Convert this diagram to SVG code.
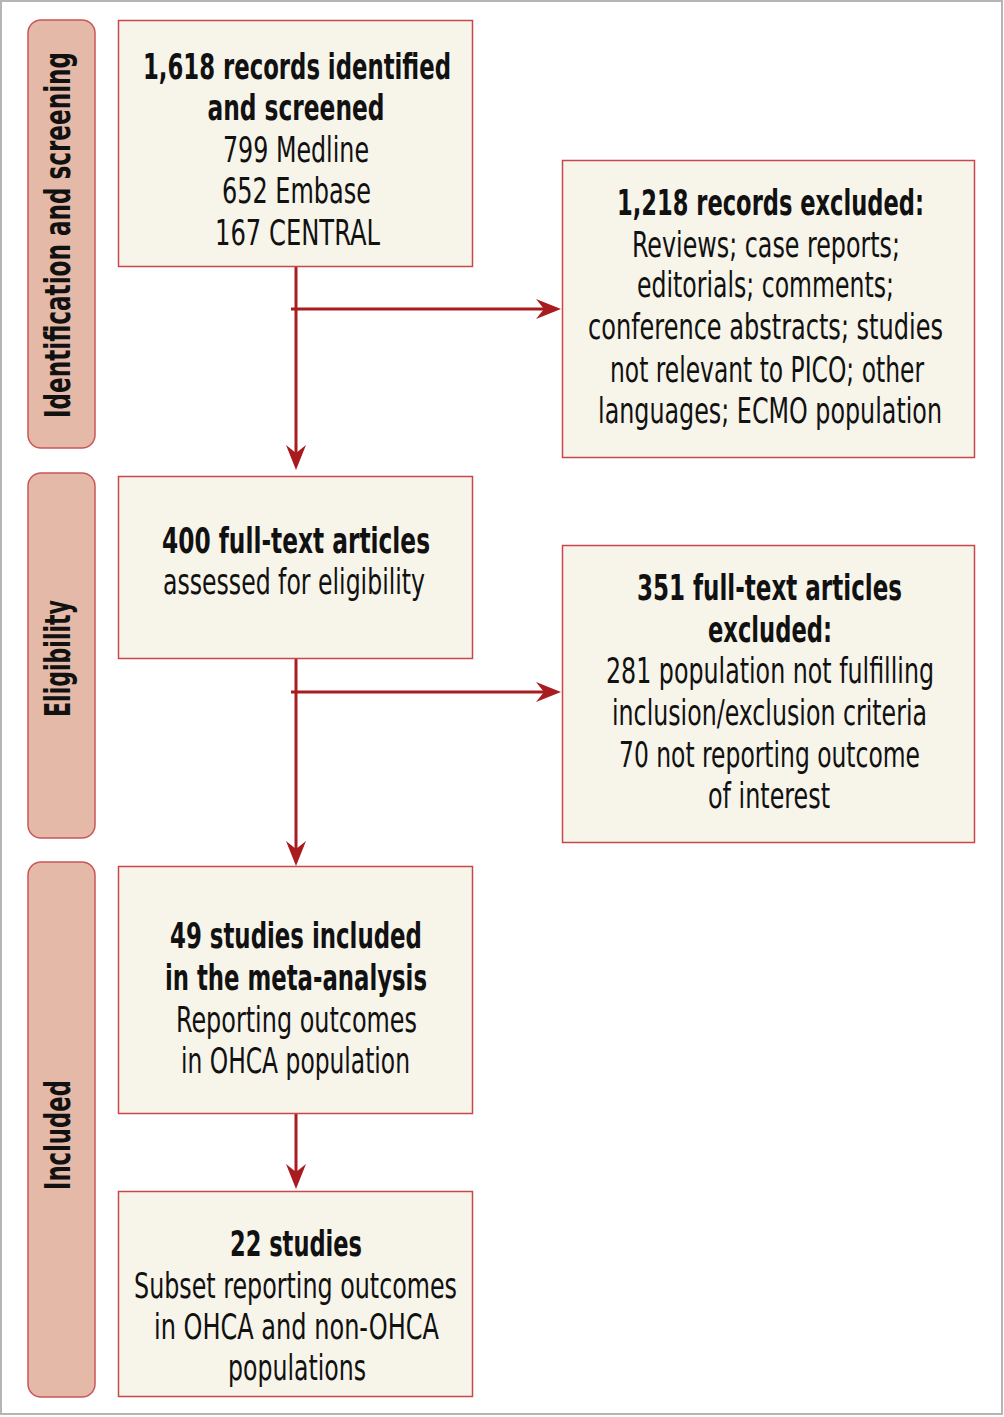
<svg xmlns="http://www.w3.org/2000/svg" width="1004" height="1417" viewBox="0 0 1004 1417">
<style>
.band{fill:#E4B9A8;stroke:#C9565A;stroke-width:1.5}
.box{fill:#F7F4EA;stroke:#C8474B;stroke-width:1.5}
.t{font-family:"Liberation Sans Narrow","DejaVu Sans Condensed","Liberation Sans",sans-serif;font-size:35px;fill:#111;text-anchor:middle}
.b{font-weight:bold}
.side{font-family:"Liberation Sans Narrow","DejaVu Sans Condensed","Liberation Sans",sans-serif;font-size:35px;font-weight:bold;fill:#111}
.ln{stroke:#A81C20;stroke-width:3;fill:none}
</style>
<defs>
<marker id="ah" markerUnits="userSpaceOnUse" viewBox="0 0 25 20" refX="15" refY="10" markerWidth="25" markerHeight="20" orient="auto">
<path d="M0,0 L25,10 L0,20 L8,10 Z" fill="#A81C20"/>
</marker>
</defs>
<rect x="1" y="1" width="1001" height="1413" fill="#FFFFFF" stroke="#B5B5B5" stroke-width="2"/>

<g id="band-identification">
<rect class="band" x="28" y="20" width="67" height="428" rx="13"/>
<text class="side" transform="translate(70,418) rotate(-90) scale(0.7,1)" textLength="522.9" lengthAdjust="spacingAndGlyphs">Identification and screening</text>
</g>
<g id="band-eligibility">
<rect class="band" x="28" y="473" width="67" height="365" rx="13"/>
<text class="side" transform="translate(70,717) rotate(-90) scale(0.7,1)" textLength="167.1" lengthAdjust="spacingAndGlyphs">Eligibility</text>
</g>
<g id="band-included">
<rect class="band" x="28" y="862" width="67" height="535" rx="13"/>
<text class="side" transform="translate(70,1190) rotate(-90) scale(0.7,1)" textLength="157.1" lengthAdjust="spacingAndGlyphs">Included</text>
</g>

<g id="connectors">
<line class="ln" x1="296" y1="267" x2="296" y2="460" marker-end="url(#ah)"/>
<line class="ln" x1="291" y1="309" x2="551" y2="309" marker-end="url(#ah)"/>
<line class="ln" x1="296" y1="659" x2="296" y2="856" marker-end="url(#ah)"/>
<line class="ln" x1="291" y1="692" x2="551" y2="692" marker-end="url(#ah)"/>
<line class="ln" x1="296" y1="1114" x2="296" y2="1179" marker-end="url(#ah)"/>
</g>

<g id="node-identified">
<rect class="box" x="118.5" y="20.5" width="354" height="246"/>
<text class="t b" transform="translate(297,79) scale(0.7,1)" textLength="440" lengthAdjust="spacingAndGlyphs">1,618 records identified</text>
<text class="t b" transform="translate(296,120) scale(0.7,1)" textLength="252.9" lengthAdjust="spacingAndGlyphs">and screened</text>
<text class="t" transform="translate(296,162) scale(0.7,1)" textLength="208.6" lengthAdjust="spacingAndGlyphs">799 Medline</text>
<text class="t" transform="translate(296.5,203) scale(0.7,1)" textLength="212.9" lengthAdjust="spacingAndGlyphs">652 Embase</text>
<text class="t" transform="translate(297.5,245) scale(0.7,1)" textLength="235.7" lengthAdjust="spacingAndGlyphs">167 CENTRAL</text>
</g>

<g id="node-excluded-records">
<rect class="box" x="562.5" y="160.5" width="412" height="297"/>
<text class="t b" transform="translate(770.5,215) scale(0.7,1)" textLength="438.6" lengthAdjust="spacingAndGlyphs">1,218 records excluded:</text>
<text class="t" transform="translate(766,257) scale(0.7,1)" textLength="382.9" lengthAdjust="spacingAndGlyphs">Reviews; case reports;</text>
<text class="t" transform="translate(765.5,297) scale(0.7,1)" textLength="367.1" lengthAdjust="spacingAndGlyphs">editorials; comments;</text>
<text class="t" transform="translate(765.5,339) scale(0.7,1)" textLength="507.1" lengthAdjust="spacingAndGlyphs">conference abstracts; studies</text>
<text class="t" transform="translate(767,382) scale(0.7,1)" textLength="448.6" lengthAdjust="spacingAndGlyphs">not relevant to PICO; other</text>
<text class="t" transform="translate(770,423) scale(0.7,1)" textLength="491.4" lengthAdjust="spacingAndGlyphs">languages; ECMO population</text>
</g>

<g id="node-fulltext">
<rect class="box" x="118.5" y="476.5" width="354" height="182"/>
<text class="t b" transform="translate(296,553) scale(0.7,1)" textLength="382.9" lengthAdjust="spacingAndGlyphs">400 full-text articles</text>
<text class="t" transform="translate(294,594) scale(0.7,1)" textLength="374.3" lengthAdjust="spacingAndGlyphs">assessed for eligibility</text>
</g>

<g id="node-excluded-fulltext">
<rect class="box" x="562.5" y="545.5" width="412" height="297"/>
<text class="t b" transform="translate(769.5,600) scale(0.7,1)" textLength="378.6" lengthAdjust="spacingAndGlyphs">351 full-text articles</text>
<text class="t b" transform="translate(770,642) scale(0.7,1)" textLength="177.1" lengthAdjust="spacingAndGlyphs">excluded:</text>
<text class="t" transform="translate(770,683) scale(0.7,1)" textLength="468.6" lengthAdjust="spacingAndGlyphs">281 population not fulfilling</text>
<text class="t" transform="translate(769.5,725) scale(0.7,1)" textLength="450" lengthAdjust="spacingAndGlyphs">inclusion/exclusion criteria</text>
<text class="t" transform="translate(769.5,767) scale(0.7,1)" textLength="430" lengthAdjust="spacingAndGlyphs">70 not reporting outcome</text>
<text class="t" transform="translate(769,808) scale(0.7,1)" textLength="174.3" lengthAdjust="spacingAndGlyphs">of interest</text>
</g>

<g id="node-included">
<rect class="box" x="118.5" y="866.5" width="354" height="247"/>
<text class="t b" transform="translate(296,948) scale(0.7,1)" textLength="360" lengthAdjust="spacingAndGlyphs">49 studies included</text>
<text class="t b" transform="translate(296,990) scale(0.7,1)" textLength="374.3" lengthAdjust="spacingAndGlyphs">in the meta-analysis</text>
<text class="t" transform="translate(296.5,1032) scale(0.7,1)" textLength="344.3" lengthAdjust="spacingAndGlyphs">Reporting outcomes</text>
<text class="t" transform="translate(295.5,1073) scale(0.7,1)" textLength="327.1" lengthAdjust="spacingAndGlyphs">in OHCA population</text>
</g>

<g id="node-subset">
<rect class="box" x="118.5" y="1191.5" width="354" height="205"/>
<text class="t b" transform="translate(296,1256) scale(0.7,1)" textLength="188.6" lengthAdjust="spacingAndGlyphs">22 studies</text>
<text class="t" transform="translate(295.5,1298) scale(0.7,1)" textLength="461.4" lengthAdjust="spacingAndGlyphs">Subset reporting outcomes</text>
<text class="t" transform="translate(296.5,1339) scale(0.7,1)" textLength="407.1" lengthAdjust="spacingAndGlyphs">in OHCA and non-OHCA</text>
<text class="t" transform="translate(297,1380) scale(0.7,1)" textLength="197.1" lengthAdjust="spacingAndGlyphs">populations</text>
</g>
</svg>
